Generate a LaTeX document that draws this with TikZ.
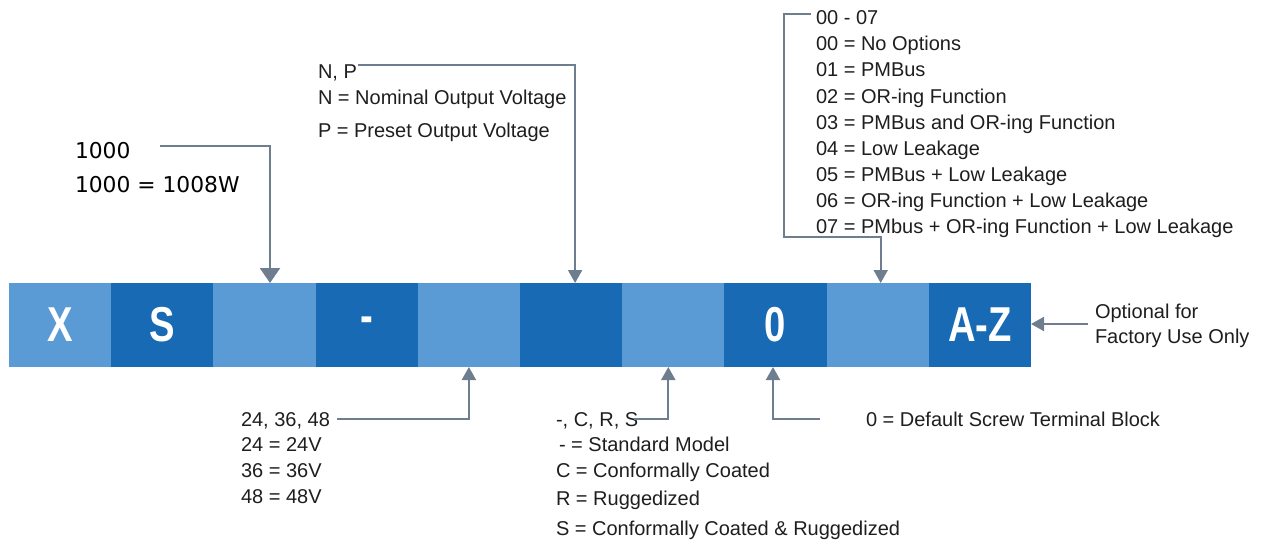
\documentclass[tikz,border=0pt]{standalone}
\usepackage{graphicx}
\usepackage{fontspec}
\setmainfont{Liberation Sans}
\newfontfamily\dejavu{DejaVu Sans}
\usetikzlibrary{arrows.meta,calc}
\definecolor{lightblue}{RGB}{91,155,213}
\definecolor{darkblue}{RGB}{24,106,180}
\definecolor{arrowgray}{RGB}{110,126,142}
\definecolor{txt}{RGB}{30,30,30}
\newcommand\celltxt[1]{\scalebox{0.78}[1]{#1}}
\begin{document}
\begin{tikzpicture}[x=1pt,y=-1pt,
  cell/.style={minimum width=102.2pt, minimum height=84pt, inner sep=0pt, outer sep=0pt, draw=none, text=white, font=\fontsize{49}{49}\selectfont\bfseries},
  lc/.style={cell, fill=lightblue},
  dc/.style={cell, fill=darkblue},
  lbl/.style={anchor=base west, inner sep=0pt, outer sep=0pt, text=txt, font=\fontsize{20}{24}\selectfont},
  biglbl/.style={anchor=base west, inner sep=0pt, outer sep=0pt, text=black, font=\dejavu\fontsize{21.8}{25}\selectfont},
  conn/.style={draw=arrowgray, line width=2pt, -{Triangle[width=14pt,length=13pt]}},
  bigconn/.style={draw=arrowgray, line width=2.2pt, -{Triangle[width=20pt,length=15pt]}},
]
\useasboundingbox (0,0) rectangle (1262,543);

% bar cells
\node[lc] (b1)  at (60.1,325)  {\celltxt{X}};
\node[dc] (b2)  at (162.3,325) {\celltxt{S}};
\node[lc] (b3)  at (264.5,325) {};
\node[dc] (b4)  at (366.7,325) {\celltxt{-}};
\node[lc] (b5)  at (468.9,325) {};
\node[dc] (b6)  at (571.1,325) {};
\node[lc] (b7)  at (673.3,325) {};
\node[dc] (b8)  at (775.5,325) {\celltxt{0}};
\node[lc] (b9)  at (877.7,325) {};
\node[dc] (b10) at (979.9,325) {\celltxt{A-Z}};

% 1000
\node[biglbl] (t1000a) at (75,158) {1000};
\node[biglbl] (t1000b) at (75,192) {1000 = 1008W};
\coordinate (c1) at (160,146);
\draw[bigconn] (c1) -| ([xshift=5.5pt]b3.north);

% N, P
\node[lbl] (np)  at (318,78)  {N, P};
\node[lbl] (npn) at (318,104) {N = Nominal Output Voltage};
\node[lbl] (npp) at (318,137) {P = Preset Output Voltage};
\coordinate (c6) at (358,65);
\draw[conn] (c6) -| ([xshift=4pt]b6.north);

% 00 - 07
\node[lbl] (o0) at (816,25)  {00 - 07};
\node[lbl] (o1) at (816,51)  {00 = No Options};
\node[lbl] (o2) at (816,77)  {01 = PMBus};
\node[lbl] (o3) at (816,103) {02 = OR-ing Function};
\node[lbl] (o4) at (816,129) {03 = PMBus and OR-ing Function};
\node[lbl] (o5) at (816,155) {04 = Low Leakage};
\node[lbl] (o6) at (816,181) {05 = PMBus + Low Leakage};
\node[lbl] (o7) at (816,207) {06 = OR-ing Function + Low Leakage};
\node[lbl] (o8) at (816,233) {07 = PMbus + OR-ing Function + Low Leakage};
\coordinate (c9) at (811,14);
\coordinate (c9a) at (784,14);
\coordinate (c9b) at (784,237);
\draw[conn] (c9) -- (c9a) -- (c9b) -| ([xshift=3pt]b9.north);

% 24, 36, 48
\node[lbl] (v0) at (241,426) {24, 36, 48};
\node[lbl] (v1) at (241,451) {24 = 24V};
\node[lbl] (v2) at (241,477) {36 = 36V};
\node[lbl] (v3) at (241,503) {48 = 48V};
\coordinate (c5) at (337,419);
\draw[conn] (c5) -| (b5.south);

% -, C, R, S
\node[lbl] (s0) at (556,426) {-, C, R, S};
\node[lbl] (s1) at (559,451) {- = Standard Model};
\node[lbl] (s2) at (556,477) {C = Conformally Coated};
\node[lbl] (s3) at (556,505) {R = Ruggedized};
\node[lbl] (s4) at (556,535) {S = Conformally Coated \& Ruggedized};
\coordinate (c7) at (634,419);
\draw[conn] (c7) -| ([xshift=-5pt]b7.south);

% 0 = Default
\node[lbl] (d0) at (866,426) {0 = Default Screw Terminal Block};
\coordinate (c8) at (820,419);
\draw[conn] (c8) -| ([xshift=-2.5pt]b8.south);

% Optional
\node[lbl] (f0) at (1095,318) {Optional for};
\node[lbl] (f1) at (1095,343) {Factory Use Only};
\coordinate (c10) at (1088,324);
\draw[conn] (c10) -- (b10.east |- c10);
\end{tikzpicture}
\end{document}
